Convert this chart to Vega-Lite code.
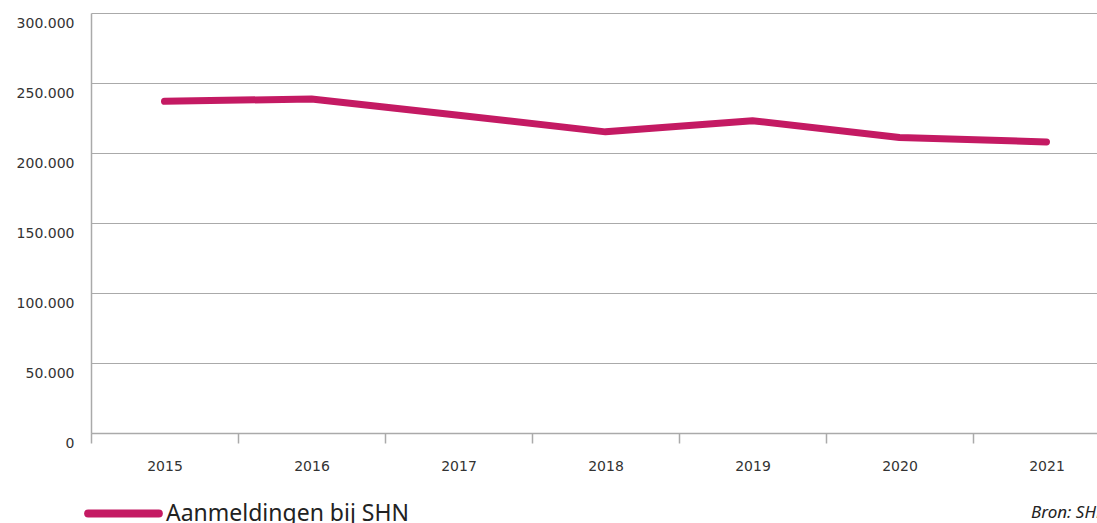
{
  "$schema": "https://vega.github.io/schema/vega-lite/v6.json",
  "autosize": "none",
  "width": 1006,
  "height": 420,
  "padding": {"left": 91, "top": 13, "right": 0, "bottom": 90},
  "background": "white",
  "config": {
    "view": {"stroke": null},
    "locale": {"number": {"decimal": ",", "thousands": ".", "grouping": [3], "currency": ["€", ""]}}
  },
  "title": {
    "text": "Bron: SHN",
    "orient": "bottom",
    "anchor": "start",
    "frame": "group",
    "dx": 940,
    "offset": -25,
    "fontStyle": "italic",
    "fontWeight": "normal",
    "fontSize": 17,
    "font": "Noto Sans",
    "color": "#222222"
  },
  "data": {
    "values": [
      {"jaar": "2015", "aantal": 236900, "reeks": "Aanmeldingen bij SHN"},
      {"jaar": "2016", "aantal": 238600, "reeks": "Aanmeldingen bij SHN"},
      {"jaar": "2017", "aantal": 227000, "reeks": "Aanmeldingen bij SHN"},
      {"jaar": "2018", "aantal": 215100, "reeks": "Aanmeldingen bij SHN"},
      {"jaar": "2019", "aantal": 223100, "reeks": "Aanmeldingen bij SHN"},
      {"jaar": "2020", "aantal": 211100, "reeks": "Aanmeldingen bij SHN"},
      {"jaar": "2021", "aantal": 207900, "reeks": "Aanmeldingen bij SHN"}
    ]
  },
  "mark": {"type": "line", "strokeWidth": 7, "strokeCap": "round", "strokeJoin": "round"},
  "encoding": {
    "x": {
      "field": "jaar",
      "type": "ordinal",
      "scale": {"range": [0, 1029], "paddingInner": 0, "paddingOuter": 0},
      "axis": {
        "title": null,
        "labelAngle": 0,
        "tickBand": "extent",
        "tickSize": 10,
        "tickColor": "#aaaaaa",
        "tickWidth": 1.5,
        "domainColor": "#aaaaaa",
        "domainWidth": 1.5,
        "labelFont": "DejaVu Sans",
        "labelFontSize": 14,
        "labelColor": "#333333",
        "labelPadding": 16,
        "grid": false
      }
    },
    "y": {
      "field": "aantal",
      "type": "quantitative",
      "scale": {"domain": [0, 300000], "nice": false},
      "axis": {
        "title": null,
        "values": [0, 50000, 100000, 150000, 200000, 250000, 300000],
        "format": ",d",
        "ticks": false,
        "grid": true,
        "gridColor": "#aaaaaa",
        "gridWidth": 1,
        "domain": true,
        "domainColor": "#aaaaaa",
        "domainWidth": 1.5,
        "labelFont": "DejaVu Sans",
        "labelFontSize": 14,
        "labelColor": "#333333",
        "labelPadding": 17,
        "labelOffset": 10
      }
    },
    "color": {
      "field": "reeks",
      "type": "nominal",
      "scale": {"range": ["#c41a63"]},
      "legend": {
        "title": null,
        "orient": "none",
        "legendX": -7,
        "legendY": 461,
        "symbolType": "stroke",
        "symbolSize": 5000,
        "symbolStrokeWidth": 8,
        "labelFont": "Noto Sans",
        "labelFontSize": 23,
        "labelColor": "#222222",
        "labelOffset": 3,
        "labelLimit": 500,
        "encode": {"symbols": {"update": {"strokeCap": {"value": "round"}}}}
      }
    }
  }
}
